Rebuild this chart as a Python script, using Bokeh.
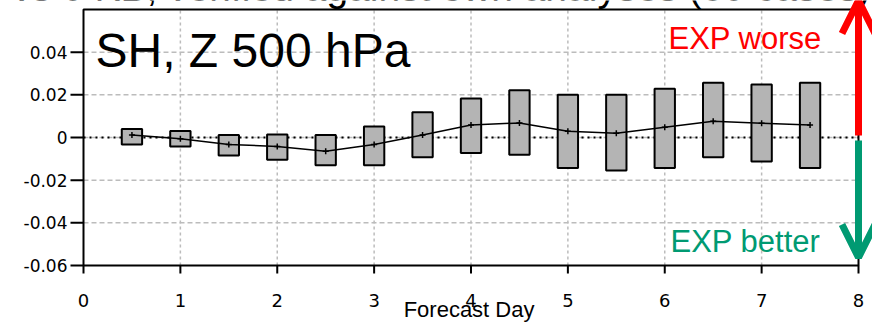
from bokeh.plotting import figure
from bokeh.models import Range1d, Label, Arrow, OpenHead
from bokeh.core.properties import value
from bokeh.embed import file_html
from bokeh.resources import INLINE

# Forecast days at which the score difference is summarised
days = [0.5, 1.0, 1.5, 2.0, 2.5, 3.0, 3.5, 4.0, 4.5, 5.0, 5.5, 6.0, 6.5, 7.0, 7.5]
# Confidence interval of the difference (upper / lower edge of each box)
box_top = [0.0040, 0.0030, 0.0012, 0.0014, 0.0012, 0.0051, 0.0118, 0.0183,
           0.0221, 0.0200, 0.0200, 0.0229, 0.0257, 0.0249, 0.0257]
box_bottom = [-0.0033, -0.0042, -0.0084, -0.0104, -0.0130, -0.0130, -0.0092, -0.0073,
              -0.0081, -0.0143, -0.0155, -0.0143, -0.0092, -0.0112, -0.0143]
# Mean difference
mean_diff = [0.0012, -0.0006, -0.0033, -0.0042, -0.0064, -0.0033, 0.0012, 0.0059,
             0.0068, 0.0029, 0.0020, 0.0048, 0.0076, 0.0067, 0.0059]

x_ticks = [0, 1, 2, 3, 4, 5, 6, 7, 8]
x_tick_labels = ["0", "1", "2", "3", "4", "5", "6", "7", "8"]
y_ticks = [-0.06, -0.04, -0.02, 0.0, 0.02, 0.04]
y_tick_labels = ["-0.06", "-0.04", "-0.02", "0", "0.02", "0.04"]
x_grid = [1, 2, 3, 4, 5, 6, 7]
y_grid = [-0.04, -0.02, 0.0, 0.02, 0.04]

X_MIN, X_MAX = 0.0, 8.0
Y_MIN, Y_MAX = -0.06, 0.06

GREEN = "#009a72"
GRID = "#bcbcbc"

# plot area geometry inside the 872 x 323 canvas (pixels)
W, H = 872, 323
LEFT, RIGHT, TOP, BOTTOM = 83, 858, 9, 265
PXD = (RIGHT - LEFT) / (X_MAX - X_MIN)      # pixels per forecast day
PXU = (BOTTOM - TOP) / (Y_MAX - Y_MIN)      # pixels per score unit


def dx(px):
    return px / PXD


def dy(px):
    return px / PXU


p = figure(width=W, height=H, output_backend="svg", toolbar_location=None,
           title=None, x_axis_type=None, y_axis_type=None,
           x_range=Range1d(X_MIN - dx(LEFT), X_MAX + dx(W - RIGHT)),
           y_range=Range1d(Y_MIN - dy(H - BOTTOM), Y_MAX + dy(TOP)),
           min_border=0)
p.grid.visible = False
p.outline_line_color = None
p.background_fill_color = "white"
p.border_fill_color = "white"

# grid lines
p.segment(x0=x_grid, x1=x_grid, y0=Y_MIN, y1=Y_MAX,
          line_color=GRID, line_width=1.5, line_dash="3 3")
p.segment(x0=X_MIN, x1=X_MAX, y0=y_grid, y1=y_grid,
          line_color=GRID, line_width=1.5, line_dash="5 3")
# zero reference line
p.segment(x0=[X_MIN], x1=[X_MAX], y0=[0.0], y1=[0.0],
          line_color="black", line_width=2, line_dash="2 4")

# confidence boxes
p.vbar(x=days, width=0.21, top=box_top, bottom=box_bottom,
       fill_color="#b4b4b4", line_color="black", line_width=2)

# mean difference line
p.line(days, mean_diff, line_color="black", line_width=1.5)
p.scatter(days, mean_diff, marker="cross", size=6, line_color="black", line_width=1.5)

# frame
p.quad(left=[X_MIN], right=[X_MAX], bottom=[Y_MIN], top=[Y_MAX],
       fill_color=None, line_color="black", line_width=2)

# y axis ticks and labels
p.segment(x0=X_MIN, x1=X_MIN - dx(13), y0=y_ticks, y1=y_ticks,
          line_color="black", line_width=2)
p.text(x=X_MIN - dx(16), y=y_ticks, text=y_tick_labels,
       text_align="right", text_baseline="middle",
       text_font=value("DejaVu Sans"), text_font_size="17px", text_color="black")

# x axis ticks and labels
p.segment(x0=x_ticks, x1=x_ticks, y0=Y_MIN, y1=Y_MIN - dy(8),
          line_color="black", line_width=2)
p.text(x=x_ticks, y=Y_MIN - dy(35), text=x_tick_labels,
       text_align="center", text_baseline="middle",
       text_font=value("DejaVu Sans"), text_font_size="18px", text_color="black")

p.add_layout(Label(x=3.98, y=Y_MIN - dy(44), text="Forecast Day",
                   text_align="center", text_baseline="alphabetic",
                   text_font="Liberation Sans", text_font_size="22px",
                   text_color="black"))

# header line running off the top edge
p.add_layout(Label(x=X_MAX + dx(12), y=Y_MAX + dy(TOP + 13),
                   text="vs 0 KB, verified against own analyses (60 cases)",
                   text_align="right", text_baseline="alphabetic",
                   text_font="Liberation Sans", text_font_size="39px",
                   text_color="black"))

p.add_layout(Label(x=X_MIN + dx(12), y=Y_MAX - dy(41), text="SH, Z 500 hPa",
                   text_align="left", text_baseline="alphabetic",
                   text_font="Liberation Sans", text_font_size="48px",
                   text_color="black"))

p.add_layout(Label(x=X_MIN + dx(585), y=Y_MAX - dy(29), text="EXP worse",
                   text_align="left", text_baseline="alphabetic",
                   text_font="Liberation Sans", text_font_size="31px",
                   text_color="red"))
p.add_layout(Label(x=X_MIN + dx(587), y=Y_MIN + dy(24), text="EXP better",
                   text_align="left", text_baseline="alphabetic",
                   text_font="Liberation Sans", text_font_size="31px",
                   text_color=GREEN))

# direction arrows on the right edge
p.add_layout(Arrow(end=OpenHead(size=33, line_width=7, line_color="red"),
                   x_start=X_MAX, y_start=dy(2), x_end=X_MAX, y_end=Y_MAX + dy(TOP),
                   line_color="red", line_width=7))
p.add_layout(Arrow(end=OpenHead(size=33, line_width=7, line_color=GREEN),
                   x_start=X_MAX, y_start=-dy(3), x_end=X_MAX, y_end=Y_MIN + dy(8),
                   line_color=GREEN, line_width=7))

open("out.html", "w").write(file_html(p, INLINE))
